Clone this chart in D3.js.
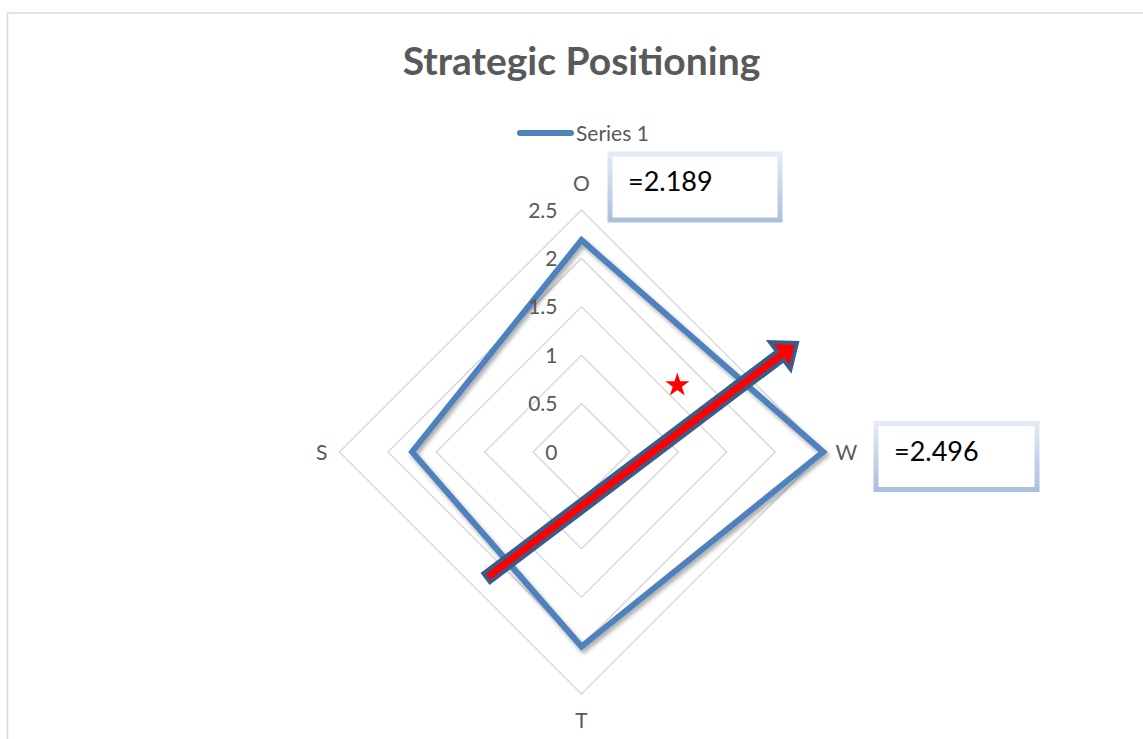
<!DOCTYPE html>
<meta charset="utf-8">
<style>
  body { margin: 0; background: #fff; }
  svg text { font-family: Lato, "Open Sans", sans-serif; }
</style>
<body>
<svg width="1143" height="739"></svg>

<script src="https://cdn.jsdelivr.net/npm/d3@7"></script>
<script>

// chart data
var categories = ["O", "W", "T", "S"];
var seriesValues = [2.189, 2.496, 2.01, 1.75];
var seriesName = "Series 1";
var tickValues = [0, 0.5, 1, 1.5, 2, 2.5];
var tickLabels = ["0", "0.5", "1", "1.5", "2", "2.5"];

// annotations, in value units (x to the right, y up)
var arrowFrom = [-0.98, -1.30];
var arrowTo = [2.226, 1.126];
var starAt = [0.99, 0.69];
var calloutTexts = ["=2.189", "=2.496"];

var svg = d3.select("svg"),
    width = +svg.attr("width"),
    height = +svg.attr("height");

var cx = 581.5, cy = 452, R = 242;
var grey = "#595959";
var labelSize = 21;

var r = d3.scaleLinear().domain([0, 2.5]).range([0, R]);
var x = d3.scaleLinear().domain([-2.5, 2.5]).range([cx - R, cx + R]);
var y = d3.scaleLinear().domain([-2.5, 2.5]).range([cy + R, cy - R]);
var angle = d3.scalePoint().domain(categories).range([0, 2 * Math.PI * 3 / 4]);

var defs = svg.append("defs");
var shadow = defs.append("filter").attr("id", "shadow")
    .attr("x", "-10%").attr("y", "-10%").attr("width", "130%").attr("height", "130%");
shadow.append("feDropShadow")
    .attr("dx", 2).attr("dy", 3).attr("stdDeviation", 2)
    .attr("flood-color", "#000").attr("flood-opacity", 0.35);

var boxGrad = defs.append("linearGradient").attr("id", "boxGrad")
    .attr("x1", 0).attr("y1", 0).attr("x2", 0).attr("y2", 1);
boxGrad.append("stop").attr("offset", "0%").attr("stop-color", "#e3ebf5");
boxGrad.append("stop").attr("offset", "100%").attr("stop-color", "#a9c1df");

// chart frame (runs off the page right and bottom)
svg.append("rect")
    .attr("x", 7.5).attr("y", 13)
    .attr("width", 1300).attr("height", 900)
    .attr("fill", "none")
    .attr("stroke", "#d9d9d9")
    .attr("stroke-width", 1.5);

// title
svg.append("text")
    .attr("x", cx).attr("y", 75)
    .attr("text-anchor", "middle")
    .attr("font-size", 39)
    .attr("font-weight", "bold")
    .attr("fill", grey)
    .text("Strategic Positioning");

// legend
var legend = svg.append("g");
legend.append("line")
    .attr("x1", 520).attr("x2", 571)
    .attr("y1", 133).attr("y2", 133)
    .attr("stroke", "#4f81bd")
    .attr("stroke-width", 6)
    .attr("stroke-linecap", "round");
legend.append("text")
    .attr("x", 576).attr("y", 141)
    .attr("font-size", labelSize)
    .attr("fill", grey)
    .text(seriesName);

// grid diamonds
var radial = d3.lineRadial()
    .angle(function(d) { return angle(d.cat); })
    .radius(function(d) { return r(d.v); })
    .curve(d3.curveLinearClosed);

var plot = svg.append("g").attr("transform", "translate(" + cx + "," + cy + ")");

plot.append("g").attr("class", "grid")
  .selectAll("path")
  .data(tickValues.filter(function(t) { return t > 0; }))
  .enter().append("path")
    .attr("d", function(t) {
      return radial(categories.map(function(c) { return { cat: c, v: t }; }));
    })
    .attr("fill", "none")
    .attr("stroke", "#d9d9d9")
    .attr("stroke-width", 1.5);

// tick labels along the O axis
svg.append("g")
  .selectAll("text")
  .data(tickValues)
  .enter().append("text")
    .attr("x", cx - 24)
    .attr("y", function(t) { return cy - r(t); })
    .attr("dy", "0.36em")
    .attr("text-anchor", "end")
    .attr("font-size", labelSize)
    .attr("fill", grey)
    .text(function(t, i) { return tickLabels[i]; });

// category labels
svg.append("g")
  .selectAll("text")
  .data(categories)
  .enter().append("text")
    .attr("x", function(c) {
      var a = angle(c);
      return cx + Math.sin(a) * (R + 12);
    })
    .attr("y", function(c) {
      var a = angle(c);
      return cy - Math.cos(a) * (R + 19);
    })
    .attr("dy", function(c) {
      var a = angle(c);
      if (Math.abs(Math.cos(a)) < 0.01) return "0.36em";
      return Math.cos(a) > 0 ? "0" : "0.72em";
    })
    .attr("text-anchor", function(c) {
      var s = Math.sin(angle(c));
      return s > 0.01 ? "start" : (s < -0.01 ? "end" : "middle");
    })
    .attr("font-size", labelSize)
    .attr("fill", grey)
    .text(function(c) { return c; });

// series line
plot.append("path")
    .datum(categories.map(function(c, i) { return { cat: c, v: seriesValues[i] }; }))
    .attr("d", radial)
    .attr("fill", "none")
    .attr("stroke", "#4f81bd")
    .attr("stroke-width", 6)
    .attr("stroke-linejoin", "miter")
    .attr("filter", "url(#shadow)");

// star
svg.append("path")
    .attr("d", d3.symbol().type(d3.symbolStar).size(180)())
    .attr("transform", "translate(" + x(starAt[0]) + "," + y(starAt[1]) + ")")
    .attr("fill", "#ff0000");

// block arrow
var ax0 = x(arrowFrom[0]), ay0 = y(arrowFrom[1]),
    ax1 = x(arrowTo[0]), ay1 = y(arrowTo[1]);
var len = Math.hypot(ax1 - ax0, ay1 - ay0),
    rot = Math.atan2(ay1 - ay0, ax1 - ax0) * 180 / Math.PI;
var hw = 5.5, headLen = 21, headW = 17;
var shape = [[0, -hw], [len - headLen, -hw], [len - headLen, -headW], [len, 0],
             [len - headLen, headW], [len - headLen, hw], [0, hw]];
svg.append("path")
    .attr("d", "M" + shape.join("L") + "Z")
    .attr("transform", "translate(" + ax0 + "," + ay0 + ") rotate(" + rot + ")")
    .attr("fill", "#ff0000")
    .attr("stroke", "#385d8a")
    .attr("stroke-width", 4)
    .attr("stroke-linejoin", "miter");

// callout boxes
var callouts = [
  { x: 610, y: 154, w: 170, h: 66, tx: 628, ty: 191, text: calloutTexts[0] },
  { x: 876, y: 423.5, w: 161, h: 66, tx: 894, ty: 461, text: calloutTexts[1] }
];
var cg = svg.append("g").selectAll("g").data(callouts).enter().append("g");
cg.append("rect")
    .attr("x", function(d) { return d.x; })
    .attr("y", function(d) { return d.y; })
    .attr("width", function(d) { return d.w; })
    .attr("height", function(d) { return d.h; })
    .attr("fill", "#fff")
    .attr("stroke", "url(#boxGrad)")
    .attr("stroke-width", 5);
cg.append("text")
    .attr("x", function(d) { return d.tx; })
    .attr("y", function(d) { return d.ty; })
    .attr("font-size", 27)
    .attr("fill", "#000")
    .text(function(d) { return d.text; });

</script>
</body>
